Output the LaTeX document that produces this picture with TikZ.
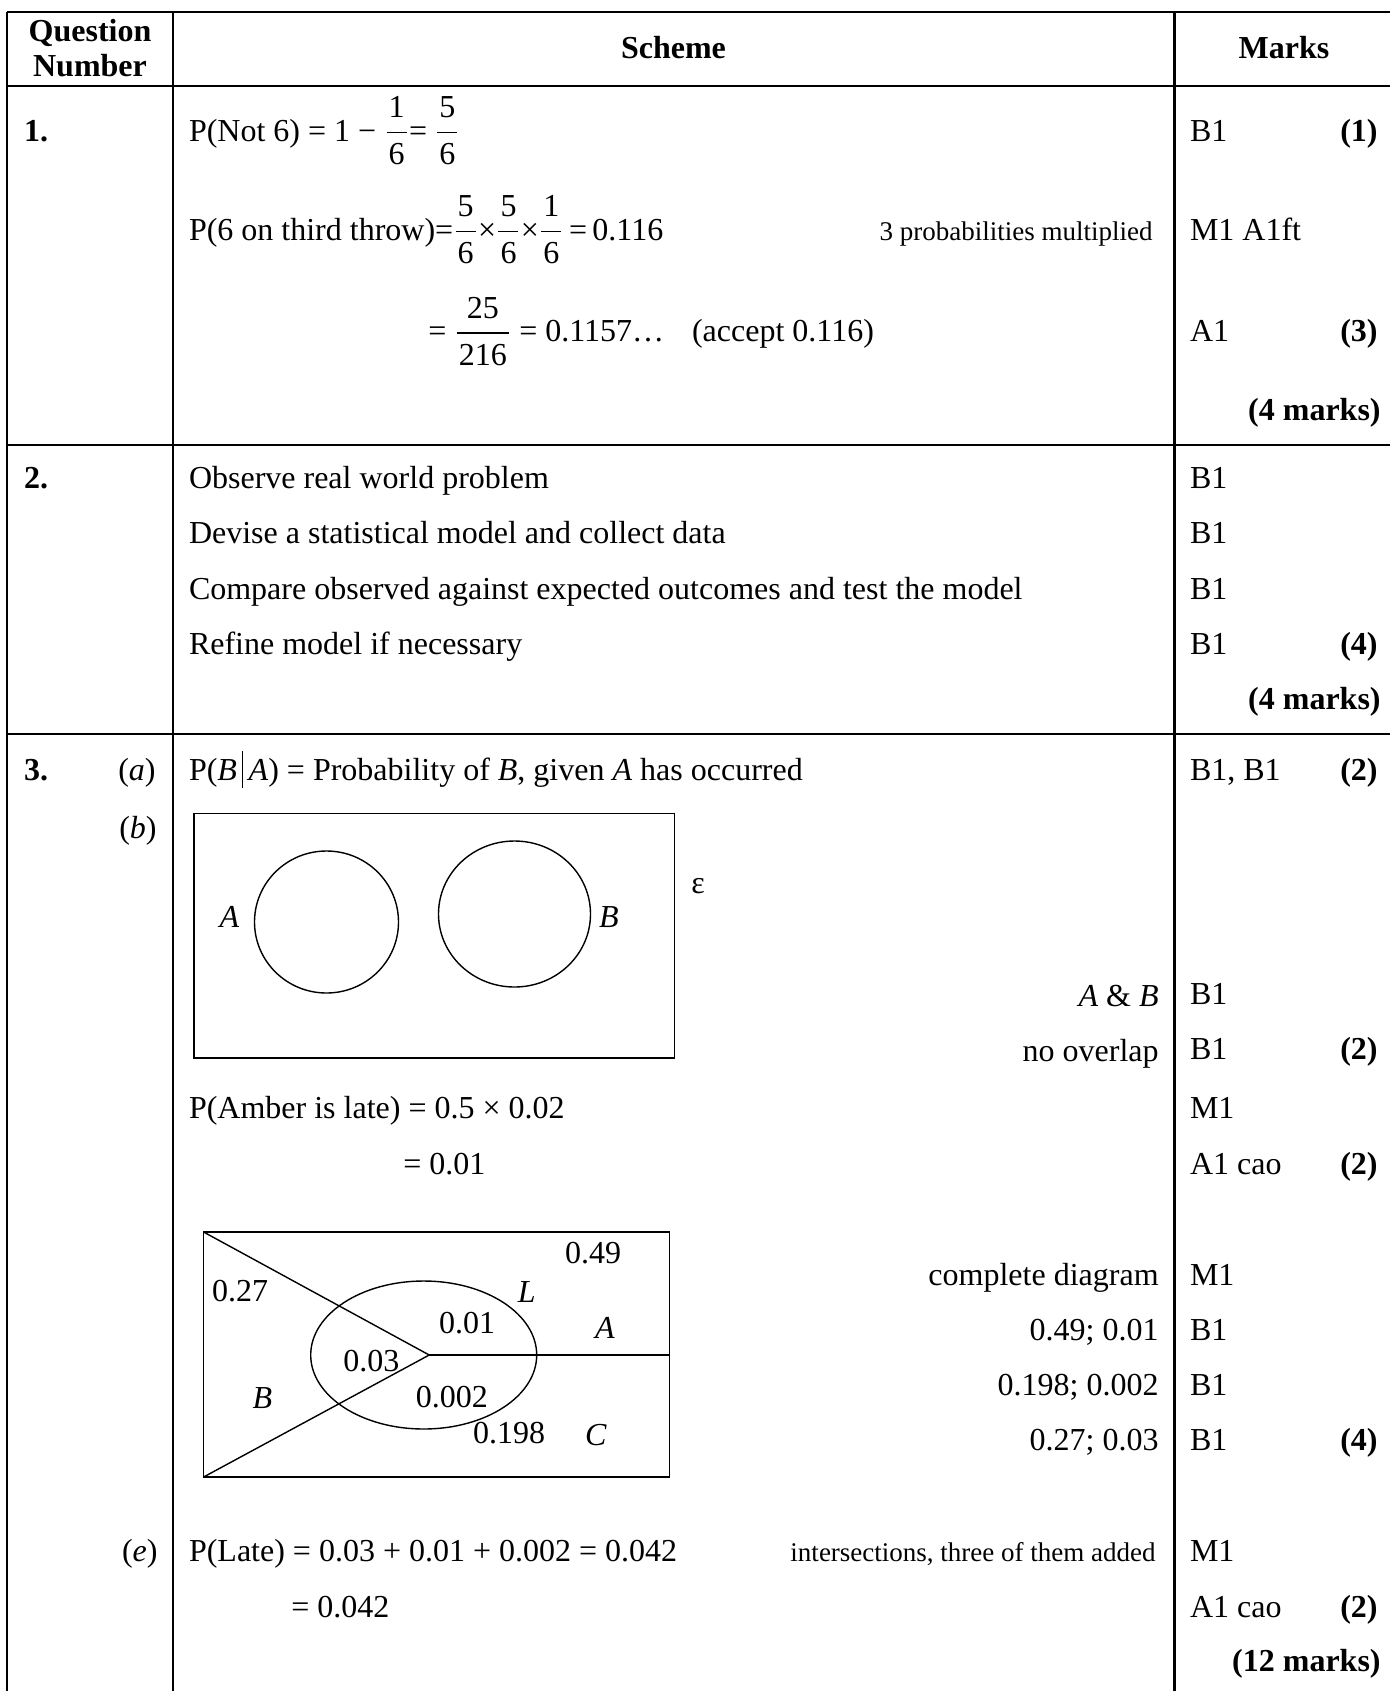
\documentclass[tikz,border=0pt]{standalone}
\usepackage{amsmath}
\usepackage{fontspec}
\setmainfont{Liberation Serif}
\newcommand{\fr}[2]{$\genfrac{}{}{0.55pt}{0}{\mbox{\kern1pt#1\kern1pt}}{\mbox{\kern1pt#2\kern1pt}}$}
\newcommand{\cbar}{\,\rule[-0.25em]{0.5pt}{1.15em}\,}
\tikzset{
  txt/.style={anchor=base west, inner sep=0pt, font=\fontsize{16}{19}\selectfont},
  txtr/.style={anchor=base east, inner sep=0pt, font=\fontsize{16}{19}\selectfont},
  bld/.style={anchor=base east, inner sep=0pt, font=\fontsize{16}{19}\selectfont\bfseries},
  hdr/.style={anchor=base, inner sep=0pt, font=\fontsize{16}{19}\selectfont\bfseries},
  qnum/.style={anchor=base west, inner sep=0pt, font=\fontsize{16}{19}\selectfont\bfseries},
  note/.style={anchor=base east, inner sep=0pt, font=\fontsize{13.5}{16}\selectfont},
  vlab/.style={anchor=center, inner sep=0pt, font=\fontsize{16}{19}\selectfont},
  tline/.style={line width=1.1pt},
  vline/.style={line width=0.7pt}
}
\begin{document}
\begin{tikzpicture}[x=0.5pt,y=-0.5pt]
\useasboundingbox (0,0) rectangle (1390,1691);
% table rules
\draw[tline] (7,12) -- (1390,12);
\draw[tline] (7,86) -- (1390,86);
\draw[tline] (7,445) -- (1390,445);
\draw[tline] (7,734) -- (1390,734);
\draw[tline] (7,12) -- (7,1691);
\draw[tline] (173,12) -- (173,1691);
\draw[tline] (1174.5,12) -- (1174.5,1691);
% header
\node[hdr] (hq) at (90,42) {Question};
\node[hdr] (hn) at (90,77) {Number};
\node[hdr] (hs) at (673.5,59) {Scheme};
\node[hdr] (hm) at (1284,59) {Marks};
% question 1
\node[qnum] (q1) at (23.7,141) {1.};
\node[txt] (s1a) at (188.6,141) {P(Not 6) = 1 − \fr{1}{6}= \fr{5}{6}};
\node[txt] (m1a) at (1189.6,141) {B1};
\node[bld] (p1a) at (1378,141) {(1)};
\node[txt] (s1b) at (188.6,240) {P(6 on third throw)=\fr{5}{6}×\fr{5}{6}×\fr{1}{6}\,=\,0.116};
\node[note] (c1b) at (1153,240) {3 probabilities multiplied};
\node[txt] (m1b) at (1189.6,240) {M1 A1ft};
\node[txt] (s1c) at (428,341.6) {= \fr{25}{216} = 0.1157…\hspace{14pt}(accept 0.116)};
\node[txt] (m1c) at (1189.6,341.6) {A1};
\node[bld] (p1c) at (1378,341.6) {(3)};
\node[bld] (t1) at (1381,420) {(4 marks)};
% question 2
\node[qnum] (q2) at (23.7,488) {2.};
\node[txt] (s2a) at (188.6,488) {Observe real world problem};
\node[txt] (s2b) at (188.6,543) {Devise a statistical model and collect data};
\node[txt] (s2c) at (188.6,599) {Compare observed against expected outcomes and test the model};
\node[txt] (s2d) at (188.6,654) {Refine model if necessary};
\node[txt] (m2a) at (1189.6,488) {B1};
\node[txt] (m2b) at (1189.6,543) {B1};
\node[txt] (m2c) at (1189.6,599) {B1};
\node[txt] (m2d) at (1189.6,654) {B1};
\node[bld] (p2d) at (1378,654) {(4)};
\node[bld] (t2) at (1381,709) {(4 marks)};
% question 3
\node[qnum] (q3) at (23.7,780) {3.};
\node[txtr] (pa) at (156,780) {(\textit{a})};
\node[txt] (s3a) at (188.6,780) {P(\textit{B}\cbar\textit{A}) = Probability of \textit{B}, given \textit{A} has occurred};
\node[txt] (m3a) at (1189.6,780) {B1, B1};
\node[bld] (p3a) at (1378,780) {(2)};
\node[txtr] (pb) at (157,838) {(\textit{b})};
% Venn diagram 1
\draw[vline] (194,813.5) rectangle (674.5,1058);
\draw[vline] (326.5,922) ellipse [x radius=36pt, y radius=35.5pt];
\draw[vline] (514.5,914) ellipse [x radius=38pt, y radius=36.5pt];
\node[vlab] (la) at (229.5,917) {\textit{A}};
\node[vlab] (lb) at (609,917) {\textit{B}};
\node[vlab] (le) at (698,886) {ε};
\node[txtr] (c3b1) at (1159,1006) {\textit{A} \& \textit{B}};
\node[txtr] (c3b2) at (1159,1061) {no overlap};
\node[txt] (m3b1) at (1189.6,1004) {B1};
\node[txt] (m3b2) at (1189.6,1059) {B1};
\node[bld] (p3b) at (1378,1059) {(2)};
% part c
\node[txt] (s3c1) at (188.6,1118) {P(Amber is late) = 0.5 × 0.02};
\node[txt] (s3c2) at (403,1174) {= 0.01};
\node[txt] (m3c1) at (1189.6,1118) {M1};
\node[txt] (m3c2) at (1189.6,1174) {A1 cao};
\node[bld] (p3c) at (1378,1174) {(2)};
% Venn diagram 2
\coordinate (apex) at (429.2,1355);
\coordinate (tl) at (203.6,1232);
\coordinate (bl) at (203.6,1477);
\coordinate (rm) at (669.6,1355);
\draw[vline] (tl) rectangle (rm |- bl);
\draw[vline] (tl) -- (apex) -- (bl);
\draw[vline] (apex) -- (rm);
\draw[vline] (423.7,1355) ellipse [x radius=56.5pt, y radius=37pt];
\node[vlab] (v049) at (593,1253) {0.49};
\node[vlab] (v027) at (240,1291) {0.27};
\node[vlab] (vL) at (526.8,1292) {\textit{L}};
\node[vlab] (v001) at (467,1323) {0.01};
\node[vlab] (vA) at (605,1328) {\textit{A}};
\node[vlab] (v003) at (371.4,1360.7) {0.03};
\node[vlab] (vB) at (262.5,1398) {\textit{B}};
\node[vlab] (v0002) at (451.8,1397) {0.002};
\node[vlab] (v0198) at (509,1433) {0.198};
\node[vlab] (vC) at (596,1435) {\textit{C}};
\node[txtr] (c3d1) at (1159,1285) {complete diagram};
\node[txtr] (c3d2) at (1159,1340) {0.49; 0.01};
\node[txtr] (c3d3) at (1159,1395) {0.198; 0.002};
\node[txtr] (c3d4) at (1159,1450) {0.27; 0.03};
\node[txt] (m3d1) at (1189.6,1285) {M1};
\node[txt] (m3d2) at (1189.6,1340) {B1};
\node[txt] (m3d3) at (1189.6,1395) {B1};
\node[txt] (m3d4) at (1189.6,1450) {B1};
\node[bld] (p3d) at (1378,1450) {(4)};
% part e
\node[txtr] (pe) at (158,1561) {(\textit{e})};
\node[txt] (s3e1) at (188.6,1561) {P(Late) = 0.03 + 0.01 + 0.002 = 0.042};
\node[note] (c3e) at (1156,1561) {intersections, three of them added};
\node[txt] (s3e2) at (291,1617) {= 0.042};
\node[txt] (m3e1) at (1189.6,1561) {M1};
\node[txt] (m3e2) at (1189.6,1617) {A1 cao};
\node[bld] (p3e) at (1378,1617) {(2)};
\node[bld] (t3) at (1381,1671) {(12 marks)};
\end{tikzpicture}
\end{document}
